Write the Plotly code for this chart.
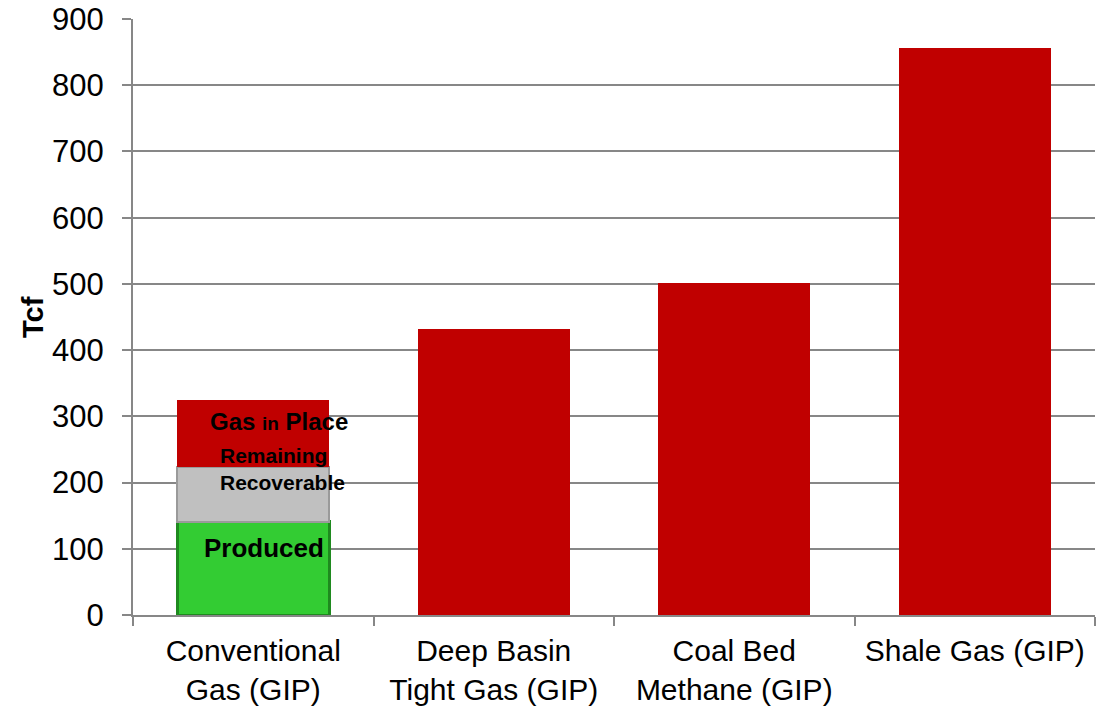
import plotly.graph_objects as go

categories = ["Conventional<br>Gas (GIP)", "Deep Basin<br>Tight Gas (GIP)",
              "Coal Bed<br>Methane (GIP)", "Shale Gas (GIP)"]
gas_in_place_total = [324, 432, 501, 856]
produced = [141, 0, 0, 0]
remaining_recoverable = [82, 0, 0, 0]
y_ticks = [0, 100, 200, 300, 400, 500, 600, 700, 800, 900]

gip_segment = [t - p - r for t, p, r in zip(gas_in_place_total, produced, remaining_recoverable)]

FONT = "Arial, Liberation Sans, sans-serif"
GRID = "#878787"

fig = go.Figure()
fig.add_trace(go.Bar(x=categories, y=produced, name="Produced",
                     marker=dict(color="#33CC33", line=dict(color="#1f8a1f", width=3))))
fig.add_trace(go.Bar(x=categories, y=remaining_recoverable, name="Remaining Recoverable",
                     marker=dict(color="#C0C0C0", line=dict(color="#9a9a9a", width=2))))
fig.add_trace(go.Bar(x=categories, y=gip_segment, name="Gas in Place",
                     marker=dict(color="#C00000", line=dict(color="#C00000", width=0))))

c0 = categories[0]
top_prod = produced[0]
top_rec = produced[0] + remaining_recoverable[0]
top_gip = gas_in_place_total[0]

fig.add_annotation(x=c0, y=top_gip, xref="x", yref="y", xanchor="left", yanchor="middle",
                   xshift=-45, yshift=-21, showarrow=False,
                   text="<b><span style='font-size:24px'>Gas </span>in<span style='font-size:24px'> Place</span></b>",
                   font=dict(family=FONT, size=19, color="black"))
fig.add_annotation(x=c0, y=top_rec, xref="x", yref="y", xanchor="left", yanchor="middle",
                   xshift=-35, yshift=-2, showarrow=False, align="left",
                   text="<b>Remaining<br>Recoverable</b>",
                   font=dict(family=FONT, size=21, color="black"))
fig.add_annotation(x=c0, y=top_prod, xref="x", yref="y", xanchor="left", yanchor="middle",
                   xshift=-51, yshift=-26, showarrow=False,
                   text="<b>Produced</b>",
                   font=dict(family=FONT, size=26, color="black"))

fig.add_annotation(x=0, y=0.5, xref="paper", yref="paper", xanchor="center", yanchor="middle",
                   xshift=-100, showarrow=False, textangle=-90,
                   text="<b>Tcf</b>", font=dict(family=FONT, size=29, color="black"))

fig.update_layout(
    width=1103, height=707,
    margin=dict(l=133, r=8, t=19, b=92),
    paper_bgcolor="white", plot_bgcolor="white",
    barmode="stack", bargap=0.37, showlegend=False,
    font=dict(family=FONT, color="black"),
)
fig.update_xaxes(
    automargin=False,
    showline=True, linecolor=GRID, linewidth=2,
    ticks="outside", tickson="boundaries", ticklen=9, tickcolor=GRID, tickwidth=1.5,
    tickfont=dict(family=FONT, size=30, color="black"),
    ticklabelstandoff=8,
    showgrid=False,
)
fig.update_yaxes(
    automargin=False,
    range=[0, 900], tickvals=y_ticks,
    showline=True, linecolor=GRID, linewidth=2,
    ticks="outside", ticklen=9, tickcolor=GRID, tickwidth=1.5,
    tickfont=dict(family=FONT, size=31, color="black"),
    ticklabelstandoff=12,
    showgrid=True, gridcolor=GRID, gridwidth=1.5,
    zeroline=False,
)

fig.write_html("out.html")
